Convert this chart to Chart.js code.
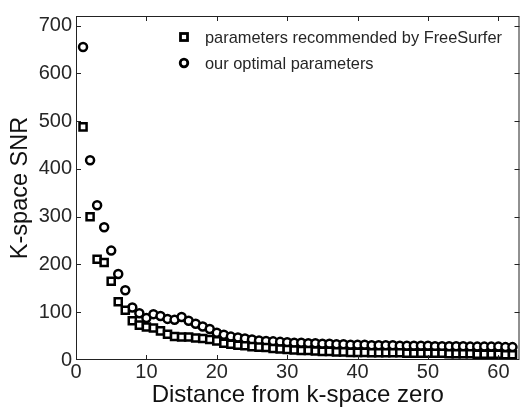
<!DOCTYPE html>
<html>
<head>
<meta charset="utf-8">
<script src="https://cdn.jsdelivr.net/npm/chart.js@4"></script>
<style>
  html, body { margin: 0; padding: 0; background: #fff; }
  #wrap { width: 527px; height: 411px; }
</style>
</head>
<body>
<div id="wrap"><canvas id="snr"></canvas></div>
<script>
// distance from k-space zero (samples 1..62)
const distance = Array.from({ length: 62 }, (_, i) => i + 1);

// k-space SNR, FreeSurfer recommended parameters
const snrFreeSurfer = [
  488, 300, 211, 204, 165, 122, 104, 82, 73, 69,
  67, 61, 54, 49, 48, 48, 46, 45, 43, 40,
  35, 33, 31, 30, 28, 27, 26, 24, 23, 22,
  21, 20, 20, 19, 18, 18, 17, 17, 16, 16,
  16, 15, 15, 15, 15, 15, 14, 14, 14, 14,
  14, 14, 13, 13, 13, 13, 12, 12, 12, 12,
  11, 11
];

// k-space SNR, our optimal parameters
const snrOptimal = [
  655, 418, 324, 278, 229, 180, 146, 110, 98, 88,
  96, 92, 86, 84, 90, 82, 76, 70, 65, 57,
  53, 49, 47, 45, 43, 41, 40, 39, 38, 37,
  36, 36, 35, 35, 34, 34, 33, 33, 32, 32,
  32, 31, 31, 31, 31, 30, 30, 30, 30, 30,
  29, 29, 29, 29, 29, 28, 28, 28, 28, 28,
  27, 27
];

const seriesNames = ['parameters recommended by FreeSurfer', 'our optimal parameters'];
const xTicks = [0, 10, 20, 30, 40, 50, 60];
const yTicks = [0, 100, 200, 300, 400, 500, 600, 700];

const FONT = 'Liberation Sans, Arial, sans-serif';
const INK = '#262626';

const toPoints = (ys) => ys.map((y, i) => ({ x: distance[i], y }));

// box around the axes, ticks pointing inwards on all four sides, legend inside
const boxAndTicks = {
  id: 'boxAndTicks',
  afterDraw(chart) {
    const { ctx, chartArea: a, scales: { x, y } } = chart;
    const len = 5;
    ctx.save();
    ctx.strokeStyle = '#222';
    ctx.lineWidth = 1;
    ctx.strokeRect(a.left + 0.5, a.top + 0.5, a.right - a.left - 1, a.bottom - a.top - 1);
    ctx.beginPath();
    xTicks.forEach(v => {
      const px = Math.round(x.getPixelForValue(v)) + 0.5;
      if (px <= a.left + 1 || px >= a.right - 1) return;
      ctx.moveTo(px, a.bottom); ctx.lineTo(px, a.bottom - len);
      ctx.moveTo(px, a.top); ctx.lineTo(px, a.top + len);
    });
    yTicks.forEach(v => {
      const py = Math.round(y.getPixelForValue(v)) + 0.5;
      if (py <= a.top + 1 || py >= a.bottom - 1) return;
      ctx.moveTo(a.left, py); ctx.lineTo(a.left + len, py);
      ctx.moveTo(a.right, py); ctx.lineTo(a.right - len, py);
    });
    ctx.stroke();

    // legend
    const lx = 184, ly = [37, 63];
    ctx.lineWidth = 2.8;
    ctx.strokeStyle = '#000';
    ctx.strokeRect(lx - 3.5, ly[0] - 3.5, 7, 7);
    ctx.beginPath();
    ctx.arc(lx, ly[1], 3.8, 0, Math.PI * 2);
    ctx.stroke();
    ctx.fillStyle = INK;
    ctx.font = '16.4px ' + FONT;
    ctx.textBaseline = 'middle';
    ctx.textAlign = 'left';
    ctx.fillText(seriesNames[0], lx + 21, ly[0] + 1);
    ctx.fillText(seriesNames[1], lx + 21, ly[1] + 1);
    ctx.restore();
  }
};

new Chart(document.getElementById('snr'), {
  type: 'scatter',
  data: {
    datasets: [
      {
        label: seriesNames[0],
        data: toPoints(snrFreeSurfer),
        pointStyle: 'rect',
        pointRadius: 5,
        pointBorderWidth: 2.5,
        pointBorderColor: '#000',
        pointBackgroundColor: '#fff'
      },
      {
        label: seriesNames[1],
        data: toPoints(snrOptimal),
        pointStyle: 'circle',
        pointRadius: 4,
        pointBorderWidth: 2.5,
        pointBorderColor: '#000',
        pointBackgroundColor: '#fff'
      }
    ]
  },
  options: {
    responsive: true,
    maintainAspectRatio: false,
    animation: false,
    layout: { padding: { top: 9, right: 1, left: 0, bottom: 0 } },
    plugins: {
      legend: { display: false },
      tooltip: { enabled: false }
    },
    scales: {
      x: {
        type: 'linear',
        min: 0,
        max: 63,
        afterFit(scale) { scale.height = 51; },
        afterBuildTicks(scale) { scale.ticks = xTicks.map(v => ({ value: v })); },
        grid: { display: false, drawTicks: false },
        border: { display: false },
        ticks: { color: INK, font: { family: FONT, size: 20 }, padding: 0, maxRotation: 0 },
        title: {
          display: true,
          text: 'Distance from k-space zero',
          color: '#111',
          font: { family: FONT, size: 24 },
          padding: { top: 0, bottom: 1 }
        }
      },
      y: {
        min: 0,
        max: 720,
        afterFit(scale) { scale.width = 76; },
        afterBuildTicks(scale) { scale.ticks = yTicks.map(v => ({ value: v })); },
        grid: { display: false, drawTicks: false },
        border: { display: false },
        ticks: { color: INK, font: { family: FONT, size: 20 }, padding: 4 },
        title: {
          display: true,
          text: 'K-space SNR',
          color: '#111',
          font: { family: FONT, size: 23.5 },
          padding: { top: 6, bottom: 0 }
        }
      }
    }
  },
  plugins: [boxAndTicks]
});
</script>
</body>
</html>
